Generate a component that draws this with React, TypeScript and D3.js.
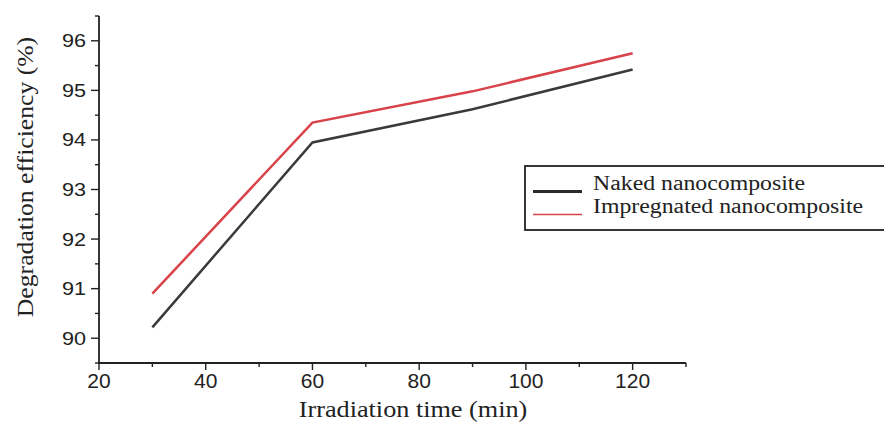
import React, { useEffect, useRef } from "react";
import * as d3 from "d3";

const times = [30, 60, 90, 120];
const naked = [90.22, 93.95, 94.62, 95.42];
const impregnated = [90.9, 94.35, 94.98, 95.75];
const xTicks = [20, 40, 60, 80, 100, 120];
const yTicks = [90, 91, 92, 93, 94, 95, 96];
const seriesNames = ["Naked nanocomposite", "Impregnated nanocomposite"];

const serif = "'Liberation Serif', 'Times New Roman', serif";
const sans = "'Liberation Sans', Arial, sans-serif";

const App = () => {
  const ref = useRef<SVGSVGElement>(null);

  useEffect(() => {
    const svg = d3.select(ref.current);
    svg.selectAll("*").remove();

    const left = 99, right = 686, top = 16, bottom = 363;

    const x = d3.scaleLinear().domain([20, 130]).range([left, right]);
    const y = d3.scaleLinear().domain([89.5, 96.5]).range([bottom, top]);

    // x axis
    const xAxis = svg.append("g").attr("transform", "translate(0," + bottom + ")");
    xAxis.append("line").attr("x1", left - 1).attr("x2", right)
      .attr("stroke", "#222").attr("stroke-width", 1.8);
    d3.range(20, 131, 10).forEach(v => {
      const major = v % 20 === 0;
      xAxis.append("line").attr("x1", x(v)).attr("x2", x(v))
        .attr("y1", 0).attr("y2", major ? 7 : 4)
        .attr("stroke", "#222").attr("stroke-width", 1.4);
    });
    xTicks.forEach(v => {
      xAxis.append("text").attr("x", x(v)).attr("y", 25)
        .attr("text-anchor", "middle")
        .style("font-family", sans)
        .style("font-size", "21px").attr("fill", "#222")
        .text(v);
    });

    // y axis
    const yAxis = svg.append("g").attr("transform", "translate(" + left + ",0)");
    yAxis.append("line").attr("y1", top).attr("y2", bottom)
      .attr("stroke", "#222").attr("stroke-width", 1.8);
    d3.range(89.5, 96.51, 0.5).forEach(v => {
      const major = Math.abs(v - Math.round(v)) < 0.01;
      yAxis.append("line").attr("y1", y(v)).attr("y2", y(v))
        .attr("x1", 0).attr("x2", major ? -8 : -4)
        .attr("stroke", "#222").attr("stroke-width", 1.4);
    });
    yTicks.forEach(v => {
      yAxis.append("text")
        .attr("transform", "translate(-13," + (y(v) + 6.5) + ") scale(1.2,1)")
        .attr("text-anchor", "end")
        .style("font-family", sans)
        .style("font-size", "18px").attr("fill", "#222")
        .text(v);
    });

    // axis titles
    svg.append("text")
      .attr("transform", "translate(413,417) scale(1.14,1)")
      .attr("text-anchor", "middle")
      .style("font-family", serif)
      .style("font-size", "23px").attr("fill", "#222")
      .text("Irradiation time (min)");
    svg.append("text")
      .attr("transform", "translate(33,177) rotate(-90) scale(1.07,1)")
      .attr("text-anchor", "middle")
      .style("font-family", serif)
      .style("font-size", "24px").attr("fill", "#222")
      .text("Degradation efficiency (%)");

    // lines
    const line = d3.line<number>()
      .x((d, i) => x(times[i]))
      .y(d => y(d));
    svg.append("path").datum(naked)
      .attr("fill", "none").attr("stroke", "#3a3a3a").attr("stroke-width", 2.5)
      .attr("d", line);
    svg.append("path").datum(impregnated)
      .attr("fill", "none").attr("stroke", "#d8434a").attr("stroke-width", 2.5)
      .attr("d", line);

    // legend
    const lg = svg.append("g");
    lg.append("rect").attr("x", 525).attr("y", 166).attr("width", 370).attr("height", 64)
      .attr("fill", "white").attr("stroke", "#222").attr("stroke-width", 1.8);
    const colors = ["#2b2b2b", "#d8434a"];
    const widths = [3.2, 1.4];
    seriesNames.forEach((name, i) => {
      const base = 190 + i * 23;
      lg.append("line").attr("x1", 533).attr("x2", 582)
        .attr("y1", base + 1.5).attr("y2", base + 1.5)
        .attr("stroke", colors[i]).attr("stroke-width", widths[i]);
      lg.append("text")
        .attr("transform", "translate(593," + base + ") scale(1.19,1)")
        .style("font-family", serif)
        .style("font-size", "20px").attr("fill", "#222")
        .text(name);
    });
  }, []);

  return (
    <svg ref={ref} width={884} height={423}
      style={{ position: "absolute", left: 0, top: 0, background: "white" }} />
  );
};

export default App;
